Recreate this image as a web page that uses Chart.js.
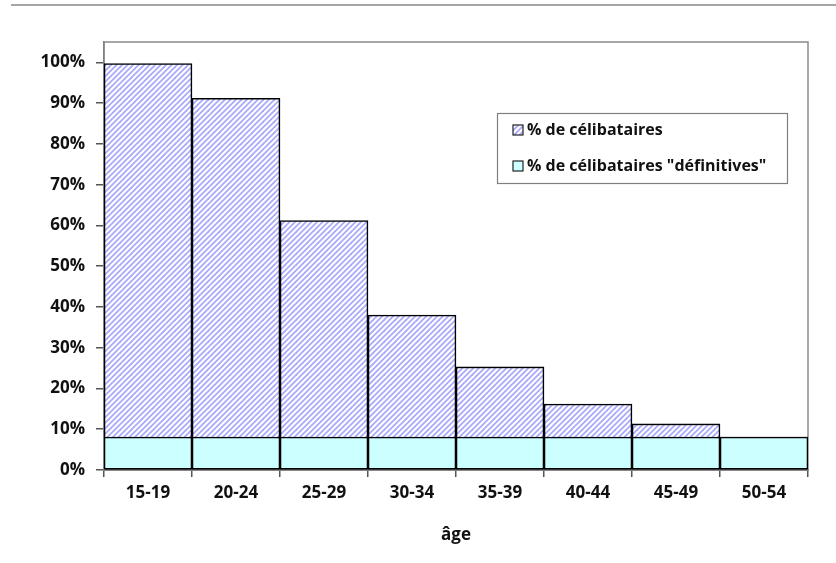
<!DOCTYPE html>
<html>
<head>
<meta charset="utf-8">
<script src="https://cdn.jsdelivr.net/npm/chart.js@4.4.0/dist/chart.umd.min.js"></script>
<style>
  html, body { margin: 0; padding: 0; background: #ffffff; }
  #wrap { width: 836px; height: 563px; position: relative; }
</style>
</head>
<body>
<div id="wrap"><canvas id="c" width="836" height="563"></canvas></div>
<script>
// ---- data ----
const categories = ['15-19', '20-24', '25-29', '30-34', '35-39', '40-44', '45-49', '50-54'];
const celibataires = [99.7, 91.2, 61.2, 38.0, 25.3, 16.2, 11.3, 8.1];
const definitives = [8.1, 8.1, 8.1, 8.1, 8.1, 8.1, 8.1, 8.1];
const yTickValues = [0, 10, 20, 30, 40, 50, 60, 70, 80, 90, 100];
const seriesLabels = ['% de célibataires', '% de célibataires "définitives"'];
const axisTitleX = 'âge';

const FONT = '"Open Sans", "DejaVu Sans", sans-serif';

function makeHatch() {
  const n = 11, p = 5.5;
  const t = document.createElement('canvas');
  t.width = n; t.height = n;
  const g = t.getContext('2d');
  g.fillStyle = '#ffffff';
  g.fillRect(0, 0, n, n);
  g.strokeStyle = '#a9a9fc';
  g.lineWidth = 1.8;
  for (let k = -1; k <= 5; k++) {
    const c = k * p;
    g.beginPath();
    g.moveTo(c + 6, -6);
    g.lineTo(-6, c + 6);
    g.stroke();
  }
  return g.createPattern(t, 'repeat');
}
const ctx = document.getElementById('c').getContext('2d');
const hatch = makeHatch();
const cyan = '#ccffff';

const framePlugin = {
  id: 'frame',
  beforeDraw(chart) {
    const c = chart.ctx;
    c.save();
    c.fillStyle = '#ffffff';
    c.fillRect(0, 0, chart.width, chart.height);
    c.strokeStyle = '#a6a6a6';
    c.lineWidth = 2;
    c.beginPath();
    c.moveTo(11, 5);
    c.lineTo(chart.width, 5);
    c.stroke();
    c.restore();
  },
  beforeDatasetsDraw(chart) {
    const a = chart.chartArea;
    const c = chart.ctx;
    c.save();
    c.strokeStyle = '#8a8a8a';
    c.lineWidth = 1.5;
    c.strokeRect(a.left, a.top, a.right - a.left, a.bottom - a.top);
    c.restore();
  },
  afterDraw(chart) {
    const c = chart.ctx;
    c.save();
    const bx = 497, by = 113, bw = 290, bh = 70;
    c.fillStyle = '#ffffff';
    c.fillRect(bx, by, bw, bh);
    c.strokeStyle = '#7f7f7f';
    c.lineWidth = 1.2;
    c.strokeRect(bx + 0.5, by + 0.5, bw, bh);
    const rows = [
      { y: 130, fill: hatch, text: seriesLabels[0] },
      { y: 166, fill: cyan, text: seriesLabels[1] }
    ];
    c.font = 'bold 16px ' + FONT;
    c.textBaseline = 'middle';
    c.textAlign = 'left';
    rows.forEach(r => {
      c.fillStyle = r.fill;
      c.fillRect(513, r.y - 5, 10, 10);
      c.strokeStyle = '#222';
      c.lineWidth = 1.2;
      c.strokeRect(513, r.y - 5, 10, 10);
      c.fillStyle = '#111';
      c.fillText(r.text, 527, r.y);
    });
    c.restore();
  }
};

new Chart(ctx, {
  type: 'bar',
  data: {
    labels: categories,
    datasets: [
      {
        label: seriesLabels[1],
        data: definitives,
        backgroundColor: cyan,
        borderColor: '#000000',
        borderWidth: 1.6,
        borderSkipped: false,
        categoryPercentage: 1.0,
        barPercentage: 1.0,
        order: 0
      },
      {
        label: seriesLabels[0],
        data: celibataires,
        backgroundColor: hatch,
        borderColor: '#000000',
        borderWidth: 1.6,
        borderSkipped: false,
        categoryPercentage: 1.0,
        barPercentage: 1.0,
        order: 1
      }
    ]
  },
  options: {
    responsive: false,
    animation: false,
    layout: { padding: { top: 42, right: 28, left: 0, bottom: 0 } },
    plugins: {
      legend: { display: false },
      tooltip: { enabled: false }
    },
    scales: {
      x: {
        stacked: true,
        grid: {
          offset: true,
          drawOnChartArea: false,
          drawTicks: true,
          tickLength: 7,
          color: '#555555',
          lineWidth: 1.5
        },
        border: { display: true, color: '#000000', width: 1.5 },
        ticks: {
          color: '#111111',
          padding: 6,
          font: { family: FONT, size: 17, weight: 'bold' }
        },
        title: {
          display: true,
          text: axisTitleX,
          color: '#111111',
          font: { family: FONT, size: 17, weight: 'bold' },
          padding: { top: 0, bottom: 18 }
        },
        afterFit(scale) { scale.height = 93; }
      },
      y: {
        stacked: false,
        min: 0,
        max: 105,
        afterBuildTicks(scale) {
          scale.ticks = yTickValues.map(v => ({ value: v }));
        },
        grid: {
          drawOnChartArea: false,
          drawTicks: true,
          tickLength: 8,
          color: '#555555',
          lineWidth: 1.5
        },
        border: { display: true, color: '#666666', width: 1.5 },
        ticks: {
          color: '#111111',
          padding: 11,
          font: { family: FONT, size: 17, weight: 'bold' },
          callback: v => v + '%'
        },
        afterFit(scale) { scale.width = 104; }
      }
    }
  },
  plugins: [framePlugin]
});
</script>
</body>
</html>
